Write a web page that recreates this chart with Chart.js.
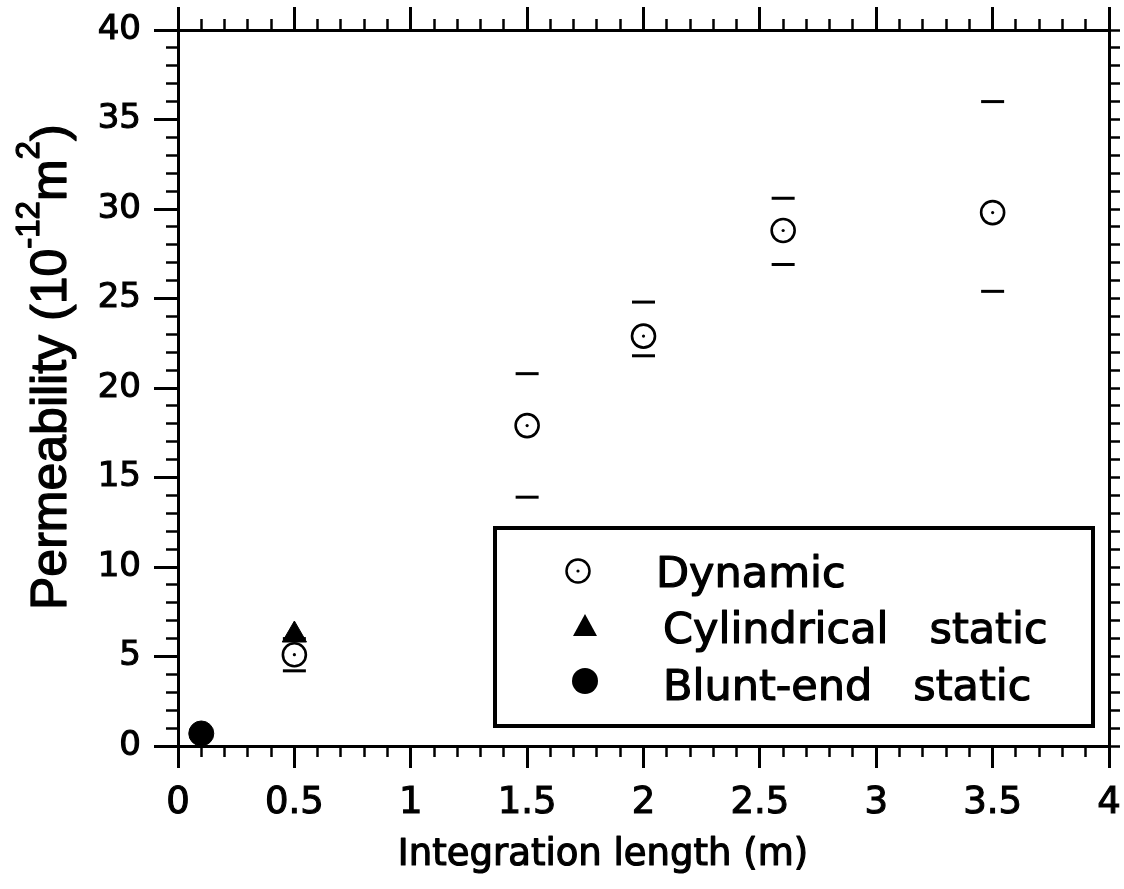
<!DOCTYPE html>
<html><head><meta charset="utf-8">
<script src="https://cdn.jsdelivr.net/npm/chart.js@4/dist/chart.umd.min.js"></script>
<style>html,body{margin:0;padding:0;background:#fff;}canvas{display:block;}</style>
</head><body>
<canvas id="c" width="1124" height="889" style="width:1124px;height:889px"></canvas>
<script>
// ---- data ----
const xTickLabels = ['0','0.5','1','1.5','2','2.5','3','3.5','4'];
const yTickLabels = ['0','5','10','15','20','25','30','35','40'];
const dynamicX    = [0.5, 1.5, 2.0, 2.6, 3.5];
const dynamicY    = [5.1, 17.9, 22.9, 28.8, 29.8];
const dynamicHigh = [6.0, 20.8, 24.8, 30.6, 36.0];
const dynamicLow  = [4.2, 13.9, 21.8, 26.9, 25.4];
const cylX = [0.5];
const cylY = [6.2];
const bluntX = [0.1];
const bluntY = [0.7];
const seriesLabels = ['Dynamic', 'Cylindrical   static', 'Blunt-end   static'];
const xTitle = 'Integration length (m)';
const yTitleText = ['Permeability (10', '-12', 'm', '2', ')'];
const yTitleSup  = [false, true, false, true, false];

const black = '#000';
const pts = (xs, ys) => xs.map((x, i) => ({x: x, y: ys[i]}));
const fixW = w => s => { s.width = w; s.paddingTop = 0; s.paddingBottom = 0; };
const fixH = h => s => { s.height = h; s.paddingLeft = 0; s.paddingRight = 0; };

function boldText(ctx, t, x, y, w) {
  ctx.lineWidth = w;
  ctx.strokeText(t, x, y);
  ctx.fillText(t, x, y);
}

const legendPlugin = {
  id: 'boxLegend',
  afterDatasetsDraw(chart) {
    const ctx = chart.ctx;
    ctx.save();
    ctx.fillStyle = '#fff';
    ctx.fillRect(495, 528, 598, 198);
    ctx.lineWidth = 4;
    ctx.strokeStyle = black;
    ctx.strokeRect(495, 528, 598, 198);
    // markers
    ctx.lineWidth = 2.5;
    ctx.beginPath(); ctx.arc(578, 571, 11.5, 0, Math.PI * 2); ctx.stroke();
    ctx.fillStyle = black;
    ctx.beginPath(); ctx.arc(578, 571, 1.6, 0, Math.PI * 2); ctx.fill();
    ctx.beginPath(); ctx.moveTo(585, 614); ctx.lineTo(597, 636); ctx.lineTo(573, 636); ctx.closePath(); ctx.fill();
    ctx.beginPath(); ctx.arc(585, 681, 13, 0, Math.PI * 2); ctx.fill();
    ctx.font = '43px "DejaVu Sans"';
    ctx.textBaseline = 'alphabetic';
    ctx.textAlign = 'left';
    ctx.lineJoin = 'round';
    boldText(ctx, seriesLabels[0], 656, 587, 1.2);
    boldText(ctx, seriesLabels[1], 663, 643, 1.2);
    boldText(ctx, seriesLabels[2], 663, 700, 1.2);
    ctx.restore();
  }
};

const titlePlugin = {
  id: 'axisTitles',
  afterDraw(chart) {
    const ctx = chart.ctx;
    ctx.save();
    ctx.fillStyle = black;
    ctx.strokeStyle = black;
    ctx.lineJoin = 'round';
    ctx.textBaseline = 'alphabetic';
    ctx.textAlign = 'center';
    ctx.font = '37px "DejaVu Sans"';
    boldText(ctx, xTitle, 603, 865, 1.2);
    ctx.translate(66, 610);
    ctx.rotate(-Math.PI / 2);
    ctx.textAlign = 'left';
    let x = 0;
    yTitleText.forEach((t, i) => {
      ctx.font = yTitleSup[i] ? '33px "Liberation Sans"' : '50px "Liberation Sans"';
      boldText(ctx, t, x, yTitleSup[i] ? -27 : 0, 1.3);
      x += ctx.measureText(t).width;
    });
    ctx.restore();
  }
};

const minorGrid = len => ({drawOnChartArea: false, drawTicks: true, tickLength: len, tickWidth: 2.5, tickColor: black, color: black});
const majorGrid = len => ({drawOnChartArea: false, drawTicks: true, tickLength: len, tickWidth: 3, tickColor: black, color: black});

new Chart(document.getElementById('c'), {
  type: 'scatter',
  data: {
    datasets: [
      {label: seriesLabels[0], data: pts(dynamicX, dynamicY), pointStyle: 'circle', pointRadius: 11.5, pointHoverRadius: 11.5,
       pointBorderWidth: 2.6, borderColor: black, pointBorderColor: black, backgroundColor: 'rgba(0,0,0,0)', pointBackgroundColor: 'rgba(0,0,0,0)'},
      {label: '', data: pts(dynamicX, dynamicY), pointStyle: 'circle', pointRadius: 1.6, pointHoverRadius: 1.6,
       pointBorderWidth: 0, borderColor: black, pointBackgroundColor: black, backgroundColor: black},
      {label: '', data: pts(dynamicX, dynamicHigh), pointStyle: 'line', pointRadius: 11.5, pointHoverRadius: 11.5,
       pointBorderWidth: 3, borderColor: black, pointBorderColor: black},
      {label: '', data: pts(dynamicX, dynamicLow), pointStyle: 'line', pointRadius: 11.5, pointHoverRadius: 11.5,
       pointBorderWidth: 3, borderColor: black, pointBorderColor: black},
      {label: seriesLabels[1], data: pts(cylX, cylY), pointStyle: 'triangle', pointRadius: 14, pointHoverRadius: 14,
       pointBorderWidth: 1, borderColor: black, pointBorderColor: black, backgroundColor: black, pointBackgroundColor: black},
      {label: seriesLabels[2], data: pts(bluntX, bluntY), pointStyle: 'circle', pointRadius: 12.5, pointHoverRadius: 12.5,
       pointBorderWidth: 1, borderColor: black, pointBorderColor: black, backgroundColor: black, pointBackgroundColor: black}
    ].map(d => Object.assign(d, {showLine: false, clip: false}))
  },
  options: {
    responsive: false,
    animation: false,
    events: [],
    layout: {padding: 0},
    plugins: {legend: {display: false}, tooltip: {enabled: false}, title: {display: false}},
    scales: {
      x: {type: 'linear', position: 'bottom', min: 0, max: 4, weight: 0, afterFit: fixH(0),
          ticks: {stepSize: 0.1, display: false, autoSkip: false},
          grid: minorGrid(11), border: {display: true, color: black, width: 3}},
      xMajor: {type: 'linear', position: 'bottom', min: 0, max: 4, weight: 1, afterFit: fixH(143),
          ticks: {stepSize: 0.5, autoSkip: false, maxRotation: 0, minRotation: 0, color: black, padding: 13,
                  textStrokeColor: black, textStrokeWidth: 1.1,
                  font: {family: 'DejaVu Sans', size: 37},
                  callback: v => xTickLabels[Math.round(v / 0.5)]},
          grid: majorGrid(22), border: {display: false}},
      xTop: {type: 'linear', position: 'top', min: 0, max: 4, weight: 0, afterFit: fixH(0),
          ticks: {stepSize: 0.1, display: false, autoSkip: false},
          grid: minorGrid(11), border: {display: true, color: black, width: 3}},
      xTopMajor: {type: 'linear', position: 'top', min: 0, max: 4, weight: 1, afterFit: fixH(30),
          ticks: {stepSize: 0.5, display: false, autoSkip: false},
          grid: majorGrid(23), border: {display: false}},
      y: {type: 'linear', position: 'left', min: 0, max: 40, weight: 0, afterFit: fixW(0),
          ticks: {stepSize: 1, display: false, autoSkip: false},
          grid: minorGrid(12), border: {display: true, color: black, width: 3}},
      yMajor: {type: 'linear', position: 'left', min: 0, max: 40, weight: 1, afterFit: fixW(178),
          ticks: {stepSize: 5, autoSkip: false, color: black, padding: 13,
                  textStrokeColor: black, textStrokeWidth: 1.1,
                  font: {family: 'DejaVu Sans', size: 34},
                  callback: v => yTickLabels[Math.round(v / 5)]},
          grid: majorGrid(24), border: {display: false}},
      yRight: {type: 'linear', position: 'right', min: 0, max: 40, weight: 0, afterFit: fixW(14),
          ticks: {stepSize: 1, display: false, autoSkip: false},
          grid: minorGrid(11), border: {display: true, color: black, width: 3}}
    }
  },
  plugins: [legendPlugin, titlePlugin]
});
</script>
</body></html>
